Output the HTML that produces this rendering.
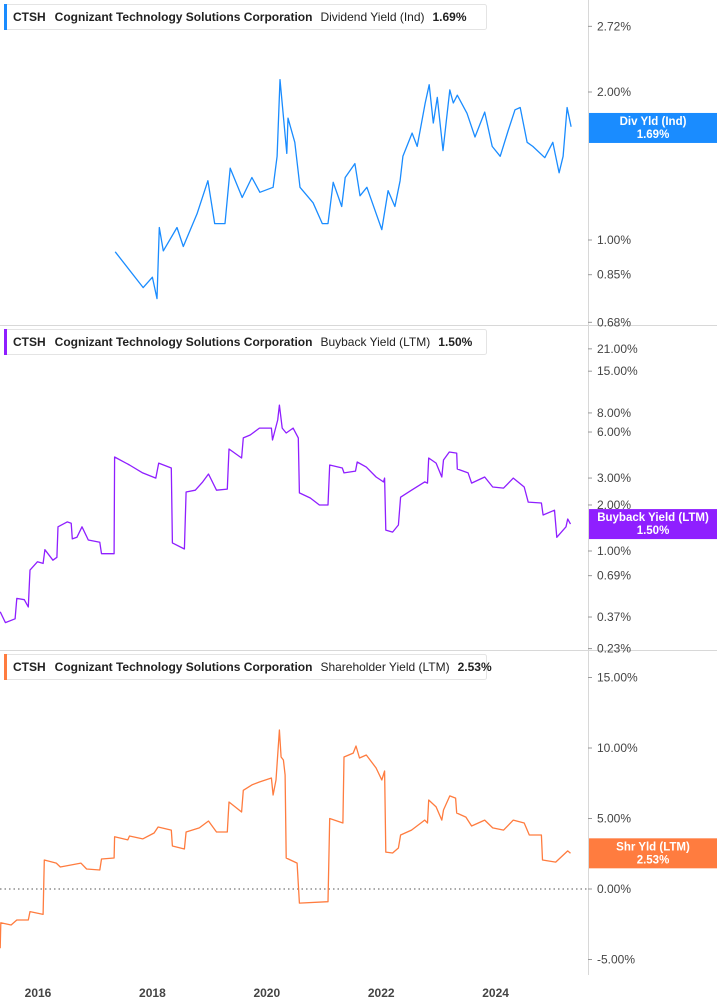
<!DOCTYPE html>
<html><head><meta charset="utf-8"><style>
html,body{margin:0;padding:0;background:#fff;}
svg{display:block;font-family:"Liberation Sans",sans-serif;}
.ax{font-size:12px;fill:#444;}
.lg{font-size:12px;fill:#222;}
</style></head><body>
<svg id="chart" width="717" height="1005" viewBox="0 0 717 1005" xmlns="http://www.w3.org/2000/svg">
<rect width="717" height="1005" fill="#fff"/>
<g id="grid"></g><g id="series"></g><g id="overlay"></g>
</svg>
<script>
const divDates=[2017.35,2017.84,2018.0,2018.08,2018.12,2018.19,2018.43,2018.54,2018.78,2018.97,2019.09,2019.27,2019.36,2019.57,2019.74,2019.88,2020.11,2020.18,2020.23,2020.35,2020.37,2020.49,2020.58,2020.81,2020.97,2021.07,2021.16,2021.31,2021.37,2021.54,2021.63,2021.75,2022.01,2022.12,2022.24,2022.33,2022.38,2022.54,2022.63,2022.77,2022.84,2022.91,2022.98,2023.08,2023.2,2023.26,2023.33,2023.5,2023.64,2023.81,2023.94,2024.08,2024.22,2024.34,2024.43,2024.55,2024.65,2024.86,2025.0,2025.11,2025.18,2025.25,2025.32];
const divValues=[0.946,0.80,0.84,0.76,1.06,0.95,1.06,0.97,1.13,1.32,1.08,1.08,1.40,1.22,1.34,1.25,1.28,1.48,2.12,1.50,1.77,1.58,1.28,1.19,1.08,1.08,1.31,1.17,1.34,1.43,1.23,1.28,1.05,1.26,1.17,1.32,1.48,1.65,1.55,1.90,2.07,1.73,1.95,1.52,2.02,1.90,1.97,1.81,1.62,1.82,1.55,1.48,1.67,1.84,1.86,1.58,1.55,1.47,1.58,1.37,1.48,1.86,1.70];
const bbDates=[2015.34,2015.43,2015.60,2015.63,2015.76,2015.83,2015.86,2015.99,2016.09,2016.12,2016.26,2016.33,2016.35,2016.51,2016.58,2016.60,2016.68,2016.77,2016.88,2017.08,2017.11,2017.33,2017.34,2017.60,2017.83,2018.06,2018.11,2018.33,2018.35,2018.56,2018.59,2018.75,2018.88,2018.98,2019.12,2019.31,2019.34,2019.56,2019.59,2019.71,2019.87,2020.08,2020.10,2020.19,2020.22,2020.27,2020.34,2020.46,2020.55,2020.57,2020.76,2020.92,2021.07,2021.10,2021.32,2021.35,2021.55,2021.58,2021.74,2021.91,2022.04,2022.06,2022.08,2022.20,2022.30,2022.34,2022.53,2022.76,2022.81,2022.83,2022.96,2023.06,2023.09,2023.19,2023.32,2023.33,2023.52,2023.58,2023.81,2023.95,2024.14,2024.31,2024.50,2024.57,2024.80,2024.83,2025.03,2025.07,2025.23,2025.26,2025.31];
const bbValues=[0.40,0.34,0.36,0.49,0.48,0.43,0.75,0.85,0.83,1.02,0.87,0.91,1.44,1.55,1.52,1.20,1.23,1.44,1.18,1.14,0.96,0.96,4.12,3.65,3.24,3.0,3.76,3.49,1.13,1.03,2.43,2.5,2.83,3.19,2.5,2.54,4.65,4.06,5.49,5.74,6.37,6.37,5.32,7.19,9.0,6.37,5.91,6.37,5.49,2.40,2.22,2.0,2.0,3.65,3.49,3.24,3.33,3.82,3.54,3.05,2.83,3.0,1.37,1.33,1.48,2.25,2.5,2.83,2.78,4.06,3.76,3.05,3.94,4.44,4.37,3.44,3.24,2.78,3.05,2.62,2.58,3.0,2.62,2.09,2.06,1.72,1.85,1.23,1.44,1.62,1.50];
const shDates=[2015.34,2015.35,2015.53,2015.63,2015.83,2015.86,2016.09,2016.11,2016.32,2016.39,2016.75,2016.85,2017.08,2017.11,2017.33,2017.34,2017.57,2017.60,2017.83,2018.03,2018.10,2018.33,2018.35,2018.56,2018.59,2018.82,2018.98,2019.12,2019.31,2019.34,2019.56,2019.59,2019.74,2019.87,2020.08,2020.11,2020.16,2020.22,2020.25,2020.29,2020.32,2020.34,2020.53,2020.57,2021.07,2021.10,2021.28,2021.33,2021.35,2021.51,2021.56,2021.62,2021.74,2021.91,2022.01,2022.06,2022.08,2022.20,2022.30,2022.34,2022.53,2022.76,2022.81,2022.83,2022.96,2023.06,2023.09,2023.20,2023.30,2023.32,2023.48,2023.58,2023.81,2023.95,2024.14,2024.31,2024.50,2024.59,2024.80,2024.82,2025.05,2025.26,2025.31];
const shValues=[-4.2,-2.4,-2.55,-2.2,-2.2,-1.6,-1.8,2.06,1.84,1.56,1.84,1.42,1.35,2.13,2.2,3.7,3.48,3.76,3.55,3.97,4.4,4.18,3.05,2.84,4.04,4.33,4.82,4.04,4.04,6.17,5.46,7.0,7.38,7.59,7.87,6.67,7.73,11.28,9.36,9.15,8.09,2.2,1.84,-1.0,-0.9,5.0,4.75,4.68,9.36,9.64,10.14,9.29,9.5,8.58,7.73,8.37,2.62,2.55,2.91,3.83,4.18,4.89,4.68,6.31,5.82,4.89,5.6,6.6,6.45,5.39,5.1,4.47,4.89,4.33,4.18,4.89,4.68,3.83,3.83,2.06,1.91,2.7,2.53];
const divTicks=[2.72,2.0,1.0,0.85,0.68];
const bbTicks=[21,15,8,6,3,2,1,0.69,0.37,0.23];
const shTicks=[15,10,5,0,-5];
const yearTicks=[2016,2018,2020,2022,2024];

const NS="http://www.w3.org/2000/svg";
const PW=588;
const xS=d=>38+(d-2016)*57.2;
const yDiv=v=>92-Math.log(v/2)*213.5;
const yBB=v=>551-Math.log(v)*66.4;
const ySh=v=>889-v*14.1;
function mk(tag,attrs,parent,text){const e=document.createElementNS(NS,tag);for(const k in attrs)e.setAttribute(k,attrs[k]);if(text!==undefined)e.textContent=text;parent.appendChild(e);return e;}
const grid=document.getElementById('grid'),ser=document.getElementById('series'),ov=document.getElementById('overlay');

let l=mk('line',{x1:PW+0.5,y1:0,x2:PW+0.5,y2:975,stroke:'#d8d8d8'},grid);


[325,650].forEach(y=>{const s=mk('line',{x1:0,y1:y+0.5,x2:717,y2:y+0.5,stroke:'#d8d8d8'},grid);

});
let z=mk('line',{x1:0,y1:ySh(0),x2:PW,y2:ySh(0),stroke:'#555','stroke-dasharray':'1.5 3'},grid);



function ticks(arr,yf,fmt){arr.forEach(v=>{const y=yf(v);
const t=mk('line',{x1:PW,y1:y,x2:PW+4,y2:y,stroke:'#999'},grid);


const tx=mk('text',{x:597,y:y+4,class:'ax'},grid,fmt(v));

});}
ticks(divTicks,yDiv,v=>v.toFixed(2)+'%');
ticks(bbTicks,yBB,v=>v.toFixed(2)+'%');
ticks(shTicks,ySh,v=>v.toFixed(2)+'%');
yearTicks.forEach(yr=>{const tx=mk('text',{x:xS(yr),y:997,class:'ax','text-anchor':'middle','font-weight':'bold','fill':'#555'},grid,String(yr));

});

function line(ds,vs,yf,color,name){const d=ds.map((t,i)=>(i?'L':'M')+xS(t).toFixed(1)+','+yf(vs[i]).toFixed(1)).join('');
const p=mk('path',{d:d,fill:'none',stroke:color,'stroke-width':1.3,'stroke-linejoin':'round'},ser);

}
line(divDates,divValues,yDiv,'#1a8cff','dividend-yield-line');
line(bbDates,bbValues,yBB,'#8f1fff','buyback-yield-line');
line(shDates,shValues,ySh,'#ff7c3f','shareholder-yield-line');

function legend(y0,color,metric,val,name){const g=mk('g',{},ov);


mk('rect',{x:4.5,y:y0+0.5,width:482,height:25,fill:'#fff',stroke:'#e4e4e4',rx:2},g);
mk('rect',{x:4,y:y0,width:3,height:26,fill:color},g);
const t=mk('text',{x:13,y:y0+17,class:'lg'},g);
mk('tspan',{'font-weight':'bold'},t,'CTSH');
mk('tspan',{dx:9,'font-weight':'bold'},t,'Cognizant Technology Solutions Corporation');
mk('tspan',{dx:8},t,metric);
mk('tspan',{dx:8,'font-weight':'bold'},t,val);}
legend(4,'#1a8cff','Dividend Yield (Ind)','1.69%','legend-dividend');
legend(329,'#8f1fff','Buyback Yield (LTM)','1.50%','legend-buyback');
legend(654,'#ff7c3f','Shareholder Yield (LTM)','2.53%','legend-shareholder');

function tag(yc,color,l1,l2,name){const g=mk('g',{},ov);


mk('rect',{x:589,y:yc-15,width:128,height:30,fill:color},g);
mk('text',{x:653,y:yc-3,'text-anchor':'middle','font-size':11.5,'font-weight':'bold',fill:'#fff'},g,l1);
mk('text',{x:653,y:yc+10,'text-anchor':'middle','font-size':11.5,'font-weight':'bold',fill:'#fff'},g,l2);}
tag(yDiv(1.69),'#1a8cff','Div Yld (Ind)','1.69%','value-tag-dividend');
tag(yBB(1.50),'#8f1fff','Buyback Yield (LTM)','1.50%','value-tag-buyback');
tag(ySh(2.53),'#ff7c3f','Shr Yld (LTM)','2.53%','value-tag-shareholder');
</script>
</body></html>
